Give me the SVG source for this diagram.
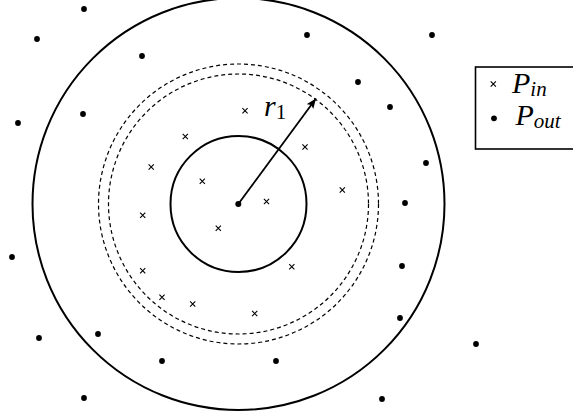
<svg xmlns="http://www.w3.org/2000/svg" width="573" height="417" viewBox="0 0 573 417">
<style>
.solid{fill:none;stroke:#000;stroke-width:2}
.dash{fill:none;stroke:#000;stroke-width:1.2;stroke-dasharray:4 3}
.dot{fill:#000}
.cross{stroke:#000;stroke-width:1.1;fill:none}
.lbl{font-family:"Liberation Serif",serif;font-style:italic;font-size:30px;fill:#000}
.sub{font-size:21px}
.num{font-style:normal}
</style>
<defs>
<marker id="ah" markerUnits="userSpaceOnUse" viewBox="0 0 10 8" markerWidth="10" markerHeight="8" refX="10" refY="4" orient="auto">
<path d="M0,0 L10,4 L0,8 L2,4 Z" fill="#000"/>
</marker>
<circle id="pd" r="2.9"/>
<path id="px" d="M-2.6,-2.6 L2.6,2.6 M-2.6,2.6 L2.6,-2.6"/>
</defs>
<g id="outer-circle"><circle class="solid" cx="238.5" cy="204" r="206"/></g>
<g id="dashed-outer"><circle class="dash" cx="238.5" cy="204" r="140"/></g>
<g id="dashed-inner"><circle class="dash" cx="238.5" cy="204" r="130"/></g>
<g id="inner-circle"><circle class="solid" cx="238.5" cy="204" r="68"/></g>
<g id="center"><circle class="dot" cx="238.3" cy="204" r="3"/></g>
<g id="connectors">
<line x1="238.3" y1="204" x2="316" y2="98.5" stroke="#000" stroke-width="1.8" marker-end="url(#ah)"/>
</g>
<g id="label-r1"><text class="lbl" x="264" y="116">r<tspan class="sub num" dy="3">1</tspan></text></g>
<g id="p-out" class="dot">
<use href="#pd" x="84" y="9"/><use href="#pd" x="37" y="39"/><use href="#pd" x="307" y="35"/><use href="#pd" x="432" y="35"/>
<use href="#pd" x="142" y="56"/><use href="#pd" x="358" y="82"/><use href="#pd" x="390" y="107"/><use href="#pd" x="18" y="123"/>
<use href="#pd" x="83" y="114"/><use href="#pd" x="426" y="163"/><use href="#pd" x="405" y="203"/><use href="#pd" x="12" y="257"/>
<use href="#pd" x="402" y="266"/><use href="#pd" x="400" y="318"/><use href="#pd" x="476" y="344"/><use href="#pd" x="39" y="338"/>
<use href="#pd" x="98" y="334"/><use href="#pd" x="162" y="361"/><use href="#pd" x="276" y="361"/><use href="#pd" x="84" y="398"/>
<use href="#pd" x="382" y="399"/>
</g>
<g id="p-in" class="cross">
<use href="#px" x="245" y="110.7"/><use href="#px" x="185.3" y="136.5"/><use href="#px" x="305" y="147"/><use href="#px" x="151.2" y="167"/>
<use href="#px" x="202.3" y="181.2"/><use href="#px" x="342.3" y="190"/><use href="#px" x="266.5" y="201.5"/><use href="#px" x="142.7" y="215.2"/>
<use href="#px" x="218.3" y="228.2"/><use href="#px" x="142.7" y="270.7"/><use href="#px" x="291.8" y="266.7"/><use href="#px" x="162" y="297.3"/>
<use href="#px" x="192.7" y="304"/><use href="#px" x="254.7" y="313.5"/>
</g>
<g id="legend">
<rect x="475.5" y="67" width="100" height="82" fill="#fff" stroke="#000" stroke-width="1.6"/>
<use href="#px" x="493.3" y="84" class="cross"/>
<text class="lbl" x="512" y="93">P<tspan class="sub" dy="3">in</tspan></text>
<use href="#pd" x="494" y="118.3" class="dot"/>
<text class="lbl" x="515.5" y="125">P<tspan class="sub" dy="3">out</tspan></text>
</g>
</svg>
